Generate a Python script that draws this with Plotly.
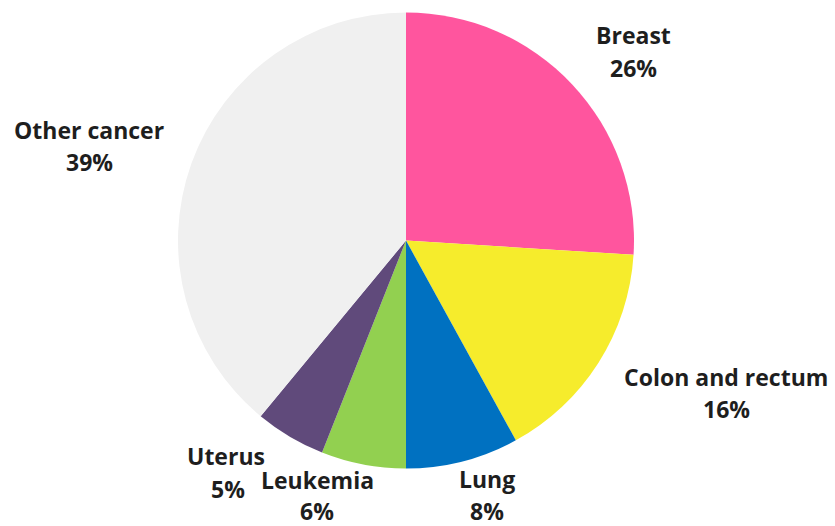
import plotly.graph_objects as go

categories = ["Breast", "Colon and rectum", "Lung", "Leukemia", "Uterus", "Other cancer"]
percent = [26, 16, 8, 6, 5, 39]
colors = ["#FF559E", "#F6EC2C", "#0071C1", "#92D050", "#604A7B", "#F0F0F0"]

W, H = 835, 526
# label layout (pixel centers): name line, percent line
label_name_pos = [(633, 35), (726, 377), (487, 479), (317, 480), (226, 456), (89, 130)]
label_pct_pos = [(633, 68), (726, 409), (487, 511), (317, 511), (228, 489), (89, 162)]

cx, cy, r = 406, 240.5, 228

fig = go.Figure()
fig.add_trace(go.Pie(
    labels=categories,
    values=percent,
    sort=False,
    direction="clockwise",
    rotation=0,
    marker=dict(colors=colors, line=dict(width=0)),
    textinfo="none",
    hoverinfo="label+percent",
    showlegend=False,
    domain=dict(x=[(cx - r) / W, (cx + r) / W], y=[(H - cy - r) / H, (H - cy + r) / H]),
))

font = dict(family="Open Sans", size=23, color="#1e1e1e")
anns = []
for name, p, (nx, ny), (px, py) in zip(categories, percent, label_name_pos, label_pct_pos):
    anns.append(dict(x=nx / W, y=1 - ny / H, xref="paper", yref="paper", text=f"<b>{name}</b>",
                     showarrow=False, font=font, xanchor="center", yanchor="middle"))
    anns.append(dict(x=px / W, y=1 - py / H, xref="paper", yref="paper", text=f"<b>{p}%</b>",
                     showarrow=False, font=font, xanchor="center", yanchor="middle"))

fig.update_layout(
    width=W, height=H,
    margin=dict(l=0, r=0, t=0, b=0),
    paper_bgcolor="white",
    plot_bgcolor="white",
    annotations=anns,
)
fig.write_html("out.html", config={"displayModeBar": False},
               post_script="document.body.style.margin='0';document.body.style.overflow='hidden';")
